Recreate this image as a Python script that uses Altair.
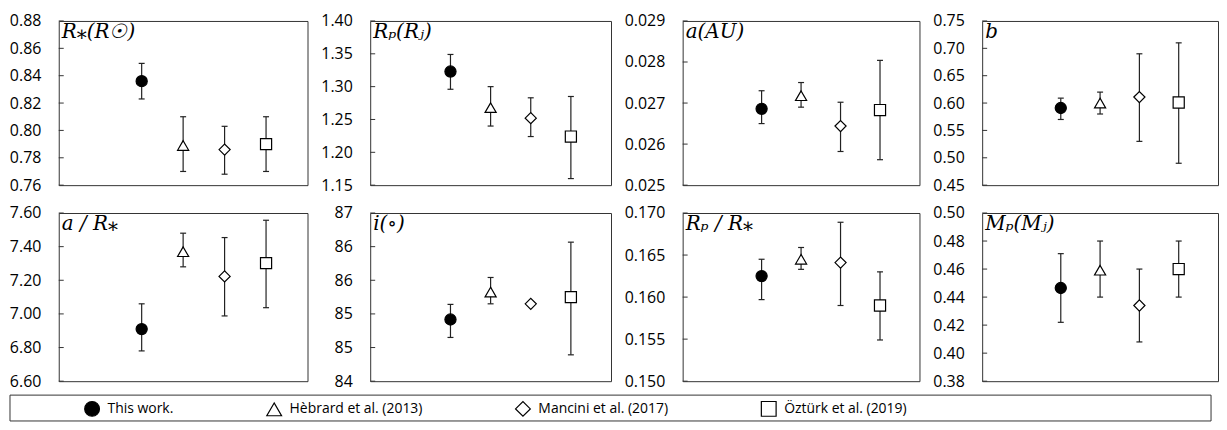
import altair as alt
import pandas as pd

SERIES = ["This work.", "Hèbrard et al. (2013)", "Mancini et al. (2017)", "Öztürk et al. (2019)"]
SERIES_POS = [0, 1, 2, 3]
SHAPES = ["circle", "triangle-up", "diamond", "square"]
FILLS = ["black", "white", "white", "white"]
STROKES = ["black", "black", "black", "black"]

# R* (R_sun)
rstar_val = [0.836, 0.789, 0.786, 0.790]
rstar_lo = [0.823, 0.770, 0.768, 0.770]
rstar_hi = [0.849, 0.810, 0.803, 0.810]
rstar_ticks = [0.76, 0.78, 0.80, 0.82, 0.84, 0.86, 0.88]
# Rp (R_J)
rp_val = [1.323, 1.268, 1.252, 1.224]
rp_lo = [1.296, 1.240, 1.224, 1.160]
rp_hi = [1.349, 1.300, 1.283, 1.285]
rp_ticks = [1.15, 1.20, 1.25, 1.30, 1.35, 1.40]
# a (AU)
a_val = [0.02686, 0.02718, 0.02644, 0.02683]
a_lo = [0.02650, 0.02690, 0.02582, 0.02562]
a_hi = [0.02730, 0.02750, 0.02702, 0.02804]
a_ticks = [0.025, 0.026, 0.027, 0.028, 0.029]
# b
b_val = [0.591, 0.600, 0.611, 0.601]
b_lo = [0.570, 0.580, 0.530, 0.490]
b_hi = [0.609, 0.620, 0.690, 0.710]
b_ticks = [0.45, 0.50, 0.55, 0.60, 0.65, 0.70, 0.75]
# a / R*
ar_val = [6.91, 7.37, 7.223, 7.302]
ar_lo = [6.78, 7.28, 6.988, 7.037]
ar_hi = [7.06, 7.48, 7.454, 7.557]
ar_ticks = [6.6, 6.8, 7.0, 7.2, 7.4, 7.6]
# i (deg)
inc_val = [85.10, 85.59, 85.38, 85.50]
inc_lo = [84.78, 85.38, None, 84.47]
inc_hi = [85.37, 85.85, None, 86.48]
inc_ticks = [84.0, 84.6, 85.2, 85.8, 86.4, 87.0]
# Rp / R*
k_val = [0.1625, 0.1645, 0.1641, 0.1590]
k_lo = [0.1597, 0.1633, 0.1590, 0.1549]
k_hi = [0.1645, 0.1659, 0.1689, 0.1630]
k_ticks = [0.150, 0.155, 0.160, 0.165, 0.170]
# Mp (M_J)
mp_val = [0.4465, 0.4592, 0.434, 0.460]
mp_lo = [0.422, 0.440, 0.408, 0.440]
mp_hi = [0.471, 0.480, 0.460, 0.480]
mp_ticks = [0.38, 0.40, 0.42, 0.44, 0.46, 0.48, 0.50]

COL_W = [250, 242, 238, 237]
ROW_H = [165, 169]
COL_GAP = 11
INK = "#222222"
FRAME = "#333333"
LABEL_FONT = "Open Sans"
# legend frame: spans from the left edge of the y labels to the right edge of the last panel
LEG_LEFT = -49
LEG_W = 1158
LEG_H = 26

shape_scale = alt.Scale(domain=SERIES, range=SHAPES)
fill_scale = alt.Scale(domain=SERIES, range=FILLS)
stroke_scale = alt.Scale(domain=SERIES, range=STROKES)
x_scale = alt.Scale(domain=[-2, 4], nice=False, zero=False)


def panel(title, vals, los, his, ticks, fmt, w, h):
    df = pd.DataFrame({"series": SERIES, "pos": SERIES_POS, "val": vals, "lo": los, "hi": his})
    tdf = pd.DataFrame({"t": ticks})
    ysc = alt.Scale(domain=[ticks[0], ticks[-1]], nice=False, zero=False)
    xenc = alt.X("pos:Q", axis=None, scale=x_scale)
    yaxis = alt.Axis(values=ticks, format=fmt, title=None, domain=False, ticks=False,
                     tickSize=0, grid=False, labelFont=LABEL_FONT, labelFontSize=16,
                     labelColor="black", labelPadding=18, labelOverlap=False)
    inner = alt.Chart(tdf).mark_rule(color=FRAME, strokeWidth=1).encode(
        y=alt.Y("t:Q", scale=ysc, axis=yaxis), x=alt.value(0), x2=alt.value(5))
    err = alt.Chart(df).transform_filter("isValid(datum.lo)")
    rule = err.mark_rule(color=INK, strokeWidth=1.2).encode(
        x=xenc, y=alt.Y("lo:Q", scale=ysc, axis=yaxis), y2="hi:Q")
    cap_lo = err.mark_tick(orient="horizontal", size=6, thickness=1.2, color=INK, opacity=1).encode(
        x=xenc, y=alt.Y("lo:Q", scale=ysc, axis=yaxis))
    cap_hi = err.mark_tick(orient="horizontal", size=6, thickness=1.2, color=INK, opacity=1).encode(
        x=xenc, y=alt.Y("hi:Q", scale=ysc, axis=yaxis))
    pts = alt.Chart(df).mark_point(filled=True, size=125, stroke="black", strokeWidth=1.2, opacity=1).encode(
        x=xenc, y=alt.Y("val:Q", scale=ysc, axis=yaxis),
        shape=alt.Shape("series:N", scale=shape_scale, legend=None),
        fill=alt.Fill("series:N", scale=fill_scale, legend=None))
    return alt.layer(inner, rule, cap_lo, cap_hi, pts).properties(
        width=w, height=h,
        title=alt.Title(title, anchor="start", orient="top", frame="group",
                        font="DejaVu Serif", fontStyle="italic", fontWeight="normal",
                        fontSize=20, color="black", baseline="alphabetic",
                        offset=0, dx=3, dy=45))


panels = [
    panel("R⁎(R☉)", rstar_val, rstar_lo, rstar_hi, rstar_ticks, ".2f", COL_W[0], ROW_H[0]),
    panel("Rₚ(Rⱼ)", rp_val, rp_lo, rp_hi, rp_ticks, ".2f", COL_W[1], ROW_H[0]),
    panel("a(AU)", a_val, a_lo, a_hi, a_ticks, ".3f", COL_W[2], ROW_H[0]),
    panel("b", b_val, b_lo, b_hi, b_ticks, ".2f", COL_W[3], ROW_H[0]),
    panel("a / R⁎", ar_val, ar_lo, ar_hi, ar_ticks, ".2f", COL_W[0], ROW_H[1]),
    panel("i(∘)", inc_val, inc_lo, inc_hi, inc_ticks, ".0f", COL_W[1], ROW_H[1]),
    panel("Rₚ / R⁎", k_val, k_lo, k_hi, k_ticks, ".3f", COL_W[2], ROW_H[1]),
    panel("Mₚ(Mⱼ)", mp_val, mp_lo, mp_hi, mp_ticks, ".2f", COL_W[3], ROW_H[1]),
]

grid = alt.concat(*panels, columns=4, spacing={"row": 10, "column": COL_GAP},
                  bounds="full").resolve_scale(shape="independent", fill="independent")

leg = alt.Legend(orient="none", legendX=25, legendY=5, direction="horizontal", title=None,
                 labelFont=LABEL_FONT, labelFontSize=14, labelColor="black",
                 symbolSize=220, symbolStrokeColor="black", symbolStrokeWidth=1.2,
                 symbolOpacity=1, columnPadding=90, labelOffset=7, padding=0)
legend_df = pd.DataFrame({"series": SERIES})
legend_pts = alt.Chart(legend_df).transform_filter("datum.series == 'none'").mark_point(
    filled=True, stroke="black", strokeWidth=1.2).encode(
    shape=alt.Shape("series:N", scale=shape_scale, legend=leg),
    fill=alt.Fill("series:N", scale=fill_scale, legend=leg),
    stroke=alt.Stroke("series:N", scale=stroke_scale, legend=leg),
)
frame_df = pd.DataFrame({"box": ["legend"]})
legend_frame = alt.Chart(frame_df).mark_rect(fill="white", stroke=FRAME, strokeWidth=1).encode(
    x=alt.value(LEG_LEFT), x2=alt.value(LEG_W), y=alt.value(0), y2=alt.value(LEG_H))
legend_chart = alt.layer(legend_frame, legend_pts).properties(
    width=LEG_W, height=LEG_H, view=alt.ViewBackground(strokeOpacity=0))

chart = alt.vconcat(grid, legend_chart, spacing=4).resolve_scale(
    shape="independent", fill="independent", stroke="independent").properties(
    padding={"top": 3, "left": 0, "right": 0, "bottom": 0},
    background="white").configure_view(stroke=FRAME, strokeWidth=1)

chart.save("out.html", embed_options={"renderer": "svg", "actions": False})
